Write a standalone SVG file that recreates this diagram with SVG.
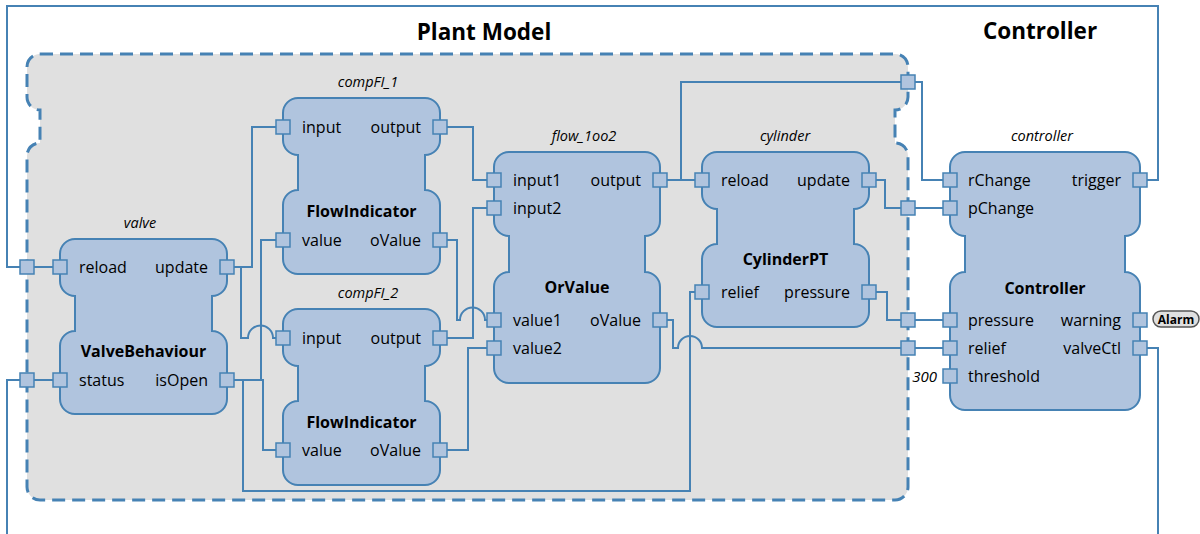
<svg xmlns="http://www.w3.org/2000/svg" width="1200" height="534" viewBox="0 0 1200 534">
  <style>
    .boundary { fill: #e0e0e0; stroke: #4682b4; stroke-width: 3; stroke-dasharray: 13 7; }
    .block { fill: #b0c4de; stroke: #4682b4; stroke-width: 2; }
    .port { fill: #b0c4de; stroke: #4682b4; stroke-width: 1.5; }
    .wire { fill: none; stroke: #4682b4; stroke-width: 2; }
    text { font-family: "Open Sans", "Noto Sans", "DejaVu Sans", sans-serif; fill: #000; }
    .heading { font-size: 22.5px; font-weight: bold; text-anchor: middle; }
    .inst { font-size: 14.5px; font-style: italic; text-anchor: middle; }
    .type { font-size: 16px; font-weight: bold; text-anchor: middle; }
    .pl { font-size: 16px; }
    .pr { font-size: 16px; text-anchor: end; }
    .val { font-size: 15px; font-style: italic; text-anchor: end; }
    .tag { fill: #e0e0e0; stroke: #555; stroke-width: 1.5; }
    .tagtext { font-size: 12px; font-weight: bold; text-anchor: middle; }
  </style>
  <defs>
    <rect id="p" class="port" x="-7" y="-7" width="14" height="14"/>
  </defs>

  <!-- Plant Model boundary -->
  <g id="plant-model">
    <path class="boundary" d="M40,54 H895 A13,13 0 0 1 908,67 V97 A13,13 0 0 1 895,110 V143 A13,13 0 0 1 908,156 V487 A13,13 0 0 1 895,500 H40 A13,13 0 0 1 27,487 V156 A13,13 0 0 1 40,143 V110 A13,13 0 0 1 27,97 V67 A13,13 0 0 1 40,54 Z"/>
    <text class="heading" x="484" y="40">Plant Model</text>
    <use href="#p" x="27" y="267"/>
    <use href="#p" x="27" y="380"/>
    <use href="#p" x="908" y="82"/>
    <use href="#p" x="908" y="208"/>
    <use href="#p" x="908" y="320"/>
    <use href="#p" x="908" y="348"/>
  </g>
  <text class="heading" x="1040" y="39">Controller</text>

  <!-- Connectors -->
  <g id="connectors" class="wire">
    <path d="M1147,180 H1158 V6 H7 V267 H20"/>
    <path d="M34,267 H53"/>
    <path d="M20,380 H7 V534"/>
    <path d="M34,380 H53"/>
    <path d="M1147,348 H1158 V534"/>
    <path d="M234,267 H252 V127 H276"/>
    <path d="M234,267 H241 V338 H248 A12.5,12.5 0 0 1 273,338 H276"/>
    <path d="M234,380 H261 V240 H276"/>
    <path d="M234,380 H263 V450 H276"/>
    <path d="M234,380 H243 V491 H690 V292 H695"/>
    <path d="M447,127 H473 V180 H487"/>
    <path d="M447,240 H457 V320 H460 A12.5,12.5 0 0 1 485,320 H487"/>
    <path d="M447,338 H473 V208 H487"/>
    <path d="M447,450 H468 V348 H487"/>
    <path d="M667,180 H695"/>
    <path d="M681,180 V82 H901"/>
    <path d="M915,82 H922 V180 H943"/>
    <path d="M876,180 H885 V208 H901"/>
    <path d="M915,208 H943"/>
    <path d="M876,292 H887 V320 H901"/>
    <path d="M915,320 H943"/>
    <path d="M667,320 H673 V348 H678 A12,12 0 0 1 702,348 H901"/>
    <path d="M915,348 H943"/>
  </g>

  <!-- valve : ValveBehaviour -->
  <g id="valve">
    <path class="block" d="M75,239 H212 A15,15 0 0 1 227,254 V281 A15,15 0 0 1 212,296 V331 A15,15 0 0 1 227,346 V399 A15,15 0 0 1 212,414 H75 A15,15 0 0 1 60,399 V346 A15,15 0 0 1 75,331 V296 A15,15 0 0 1 60,281 V254 A15,15 0 0 1 75,239 Z"/>
    <text class="inst" x="140" y="228">valve</text>
    <text class="type" x="143.5" y="357">ValveBehaviour</text>
    <use href="#p" x="60" y="267"/>
    <use href="#p" x="60" y="380"/>
    <use href="#p" x="227" y="267"/>
    <use href="#p" x="227" y="380"/>
    <text class="pl" x="79" y="273">reload</text>
    <text class="pl" x="79" y="386">status</text>
    <text class="pr" x="208" y="273">update</text>
    <text class="pr" x="208" y="386">isOpen</text>
  </g>

  <!-- compFI_1 : FlowIndicator -->
  <g id="compFI_1">
    <path class="block" d="M298,98 H425 A15,15 0 0 1 440,113 V140 A15,15 0 0 1 425,155 V190 A15,15 0 0 1 440,205 V259 A15,15 0 0 1 425,274 H298 A15,15 0 0 1 283,259 V205 A15,15 0 0 1 298,190 V155 A15,15 0 0 1 283,140 V113 A15,15 0 0 1 298,98 Z"/>
    <text class="inst" x="368" y="87">compFI_1</text>
    <text class="type" x="361.5" y="217">FlowIndicator</text>
    <use href="#p" x="283" y="127"/>
    <use href="#p" x="283" y="240"/>
    <use href="#p" x="440" y="127"/>
    <use href="#p" x="440" y="240"/>
    <text class="pl" x="302" y="133">input</text>
    <text class="pl" x="302" y="246">value</text>
    <text class="pr" x="421" y="133">output</text>
    <text class="pr" x="421" y="246">oValue</text>
  </g>

  <!-- compFI_2 : FlowIndicator -->
  <g id="compFI_2">
    <path class="block" d="M298,309 H425 A15,15 0 0 1 440,324 V351 A15,15 0 0 1 425,366 V401 A15,15 0 0 1 440,416 V470 A15,15 0 0 1 425,485 H298 A15,15 0 0 1 283,470 V416 A15,15 0 0 1 298,401 V366 A15,15 0 0 1 283,351 V324 A15,15 0 0 1 298,309 Z"/>
    <text class="inst" x="368" y="298">compFI_2</text>
    <text class="type" x="361.5" y="428">FlowIndicator</text>
    <use href="#p" x="283" y="338"/>
    <use href="#p" x="283" y="450"/>
    <use href="#p" x="440" y="338"/>
    <use href="#p" x="440" y="450"/>
    <text class="pl" x="302" y="344">input</text>
    <text class="pl" x="302" y="456">value</text>
    <text class="pr" x="421" y="344">output</text>
    <text class="pr" x="421" y="456">oValue</text>
  </g>

  <!-- flow_1oo2 : OrValue -->
  <g id="flow_1oo2">
    <path class="block" d="M509,152 H645 A15,15 0 0 1 660,167 V221 A15,15 0 0 1 645,236 V272 A15,15 0 0 1 660,287 V368 A15,15 0 0 1 645,383 H509 A15,15 0 0 1 494,368 V287 A15,15 0 0 1 509,272 V236 A15,15 0 0 1 494,221 V167 A15,15 0 0 1 509,152 Z"/>
    <text class="inst" x="584" y="141">flow_1oo2</text>
    <text class="type" x="577" y="293">OrValue</text>
    <use href="#p" x="494" y="180"/>
    <use href="#p" x="494" y="208"/>
    <use href="#p" x="494" y="320"/>
    <use href="#p" x="494" y="348"/>
    <use href="#p" x="660" y="180"/>
    <use href="#p" x="660" y="320"/>
    <text class="pl" x="513" y="186">input1</text>
    <text class="pl" x="513" y="214">input2</text>
    <text class="pl" x="513" y="326">value1</text>
    <text class="pl" x="513" y="354">value2</text>
    <text class="pr" x="641" y="186">output</text>
    <text class="pr" x="641" y="326">oValue</text>
  </g>

  <!-- cylinder : CylinderPT -->
  <g id="cylinder">
    <path class="block" d="M717,152 H854 A15,15 0 0 1 869,167 V194 A15,15 0 0 1 854,209 V244 A15,15 0 0 1 869,259 V312 A15,15 0 0 1 854,327 H717 A15,15 0 0 1 702,312 V259 A15,15 0 0 1 717,244 V209 A15,15 0 0 1 702,194 V167 A15,15 0 0 1 717,152 Z"/>
    <text class="inst" x="785" y="141">cylinder</text>
    <text class="type" x="785.5" y="265">CylinderPT</text>
    <use href="#p" x="702" y="180"/>
    <use href="#p" x="702" y="292"/>
    <use href="#p" x="869" y="180"/>
    <use href="#p" x="869" y="292"/>
    <text class="pl" x="721" y="186">reload</text>
    <text class="pl" x="721" y="298">relief</text>
    <text class="pr" x="850" y="186">update</text>
    <text class="pr" x="850" y="298">pressure</text>
  </g>

  <!-- controller : Controller -->
  <g id="controller">
    <path class="block" d="M965,152 H1125 A15,15 0 0 1 1140,167 V221 A15,15 0 0 1 1125,236 V272 A15,15 0 0 1 1140,287 V395 A15,15 0 0 1 1125,410 H965 A15,15 0 0 1 950,395 V287 A15,15 0 0 1 965,272 V236 A15,15 0 0 1 950,221 V167 A15,15 0 0 1 965,152 Z"/>
    <text class="inst" x="1042" y="141">controller</text>
    <text class="type" x="1045" y="294">Controller</text>
    <use href="#p" x="950" y="180"/>
    <use href="#p" x="950" y="208"/>
    <use href="#p" x="950" y="320"/>
    <use href="#p" x="950" y="348"/>
    <use href="#p" x="950" y="376"/>
    <use href="#p" x="1140" y="180"/>
    <use href="#p" x="1140" y="320"/>
    <use href="#p" x="1140" y="348"/>
    <text class="pl" x="968" y="186">rChange</text>
    <text class="pl" x="968" y="214">pChange</text>
    <text class="pl" x="968" y="326">pressure</text>
    <text class="pl" x="968" y="354">relief</text>
    <text class="pl" x="968" y="382">threshold</text>
    <text class="pr" x="1121" y="186">trigger</text>
    <text class="pr" x="1121" y="326">warning</text>
    <text class="pr" x="1121" y="354">valveCtl</text>
    <text class="val" x="937" y="382">300</text>
  </g>

  <!-- Alarm output tag -->
  <g id="alarm">
    <rect class="tag" x="1153" y="311" width="46" height="16" rx="8"/>
    <text class="tagtext" x="1176" y="323.5">Alarm</text>
  </g>
</svg>
